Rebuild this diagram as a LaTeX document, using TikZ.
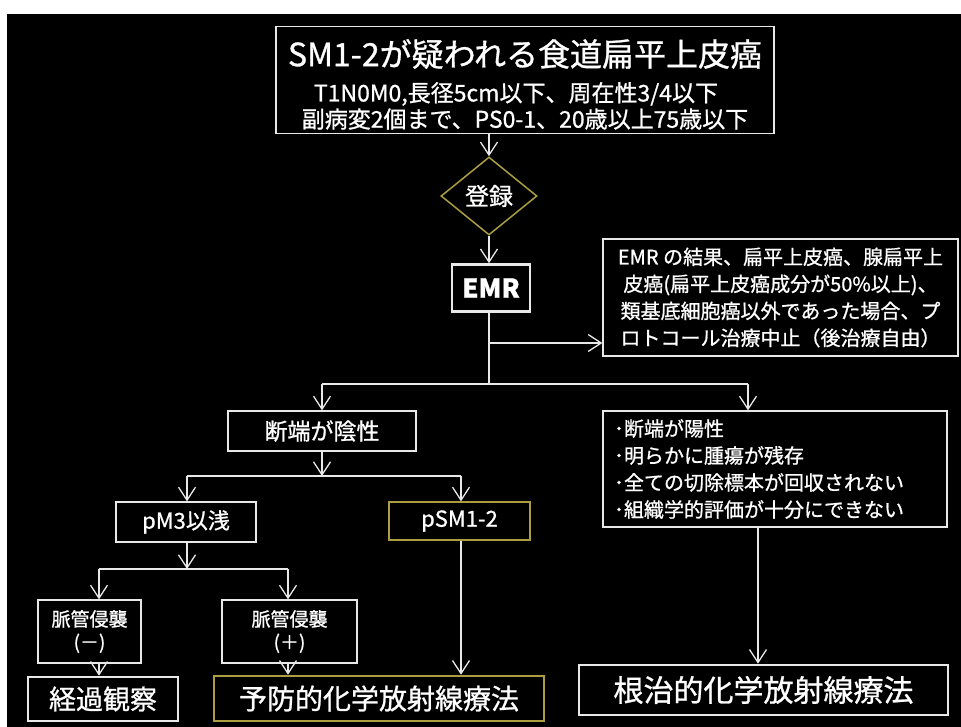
\documentclass[tikz,border=0pt]{standalone}
\usepackage{fontspec}
\setmainfont{Noto Sans CJK JP}[FakeBold=0.9]
\usetikzlibrary{arrows.meta,shapes.geometric}
\definecolor{gold}{RGB}{172,156,66}
\definecolor{lineW}{RGB}{232,232,232}
\begin{document}
\begin{tikzpicture}[x=1pt,y=-1pt,
  every node/.style={text=white},
  box/.style={draw=lineW, line width=1.3pt, inner sep=0pt, align=center},
  thickbox/.style={box, line width=2.6pt},
  goldbox/.style={box, draw=gold},
  conn/.style={draw=lineW, line width=1.3pt},
  arr/.style={conn, -{Straight Barb[length=13pt,width=17pt,line width=1.3pt]}},
  ftitle/.style={font=\fontsize{32}{36}\selectfont},
  fsub/.style={font=\fontsize{22}{26}\selectfont},
  fsubb/.style={font=\fontsize{23}{26}\selectfont},
  fnote/.style={font=\fontsize{20}{27}\selectfont},
]
\useasboundingbox (0,0) rectangle (961,727);
\fill[white] (0,0) rectangle (961,727);
\fill[black] (7,14) rectangle (961,727);

% top box
\node[box, minimum width=498pt, minimum height=107pt] (top) at (525,80) {};
\node[ftitle] (t1) at (525,54) {SM1-2が疑われる食道扁平上皮癌};
\node[fsubb] (t2) at (516,94) {T1N0M0,長径5cm以下、周在性3/4以下};
\node[fsubb] (t3) at (525,119) {副病変2個まで、PS0-1、20歳以上75歳以下};

% registration diamond
\node[diamond, draw=gold, line width=1.5pt, aspect=1.23, minimum width=96pt, minimum height=78pt, inner sep=0pt, font=\fontsize{24}{26}\selectfont] (reg) at (489,196) {登録};

% EMR
\node[thickbox, minimum width=78pt, minimum height=47pt, font=\fontsize{26}{30}\selectfont\bfseries] (emr) at (491,288) {EMR};

% right box 1
\node[box, minimum width=355pt, minimum height=117pt, fnote] (rb1) at (780.5,297.5)
  {EMR の結果、扁平上皮癌、腺扁平上\\皮癌(扁平上皮癌成分が50\%以上)、\\類基底細胞癌以外であった場合、プ\\ロトコール治療中止（後治療自由）};

% right box 2
\node[box, text width=322pt, inner xsep=11pt, minimum height=116pt, align=left, fnote] (rb2) at (775,469)
  {･断端が陽性\\･明らかに腫瘍が残存\\･全ての切除標本が回収されない\\･組織学的評価が十分にできない};

% margin negative
\node[box, minimum width=188pt, minimum height=40pt, font=\fontsize{23}{27}\selectfont] (neg) at (322,431) {断端が陰性};

\node[box, minimum width=140pt, minimum height=40pt, fsub] (pm3) at (186,522) {pM3以浅};
\node[goldbox, minimum width=141pt, minimum height=38pt, fsub] (psm) at (459.5,521) {pSM1-2};

\node[box, minimum width=103pt, minimum height=63pt, font=\fontsize{19}{23}\selectfont] (v1) at (89.5,631.5) {脈管侵襲\\(－)};
\node[box, minimum width=135pt, minimum height=63pt, font=\fontsize{19}{23}\selectfont] (v2) at (289.5,631.5) {脈管侵襲\\(＋)};

\node[thickbox, minimum width=150pt, minimum height=44pt, font=\fontsize{27}{30}\selectfont] (obs) at (103,699) {経過観察};
\node[goldbox, line width=2.6pt, minimum width=330pt, minimum height=45pt, font=\fontsize{28}{32}\selectfont] (prev) at (379,698.5) {予防的化学放射線療法};
\node[thickbox, minimum width=369pt, minimum height=50pt, font=\fontsize{30}{34}\selectfont] (cure) at (763.5,690) {根治的化学放射線療法};

% connectors
\draw[arr] (top.south -| reg.north) -- (reg.north);
\draw[arr] (reg.south) -- (reg.south |- emr.north);

\coordinate (j1) at (489,343);
\coordinate (j2) at (489,384);
\coordinate (k2) at (748,384);
\draw[conn] (j1 |- emr.south) -- (j2);
\draw[arr] (j1) -- (j1 -| rb1.west);
\draw[conn] (neg.north |- j2) -- (k2);
\draw[arr] (neg.north |- j2) -- (neg.north);
\draw[arr] (k2) -- (k2 |- rb2.north);

\coordinate (j3) at (322,476);
\draw[arr] (neg.south) -- (j3);
\coordinate (b1) at (187,476);
\coordinate (b2) at (461,476);
\draw[conn] (b1) -- (b2);
\draw[arr] (b1) -- (b1 |- pm3.north);
\draw[arr] (b2) -- (b2 |- psm.north);

\coordinate (j4) at (187,569);
\draw[arr] (j4 |- pm3.south) -- (j4);
\coordinate (a1) at (99,569);
\coordinate (a2) at (288,569);
\draw[conn] (a1) -- (a2);
\draw[arr] (a1) -- (a1 |- v1.north);
\draw[arr] (a2) -- (a2 |- v2.north);
\draw[arr] (a1 |- v1.south) -- (a1 |- obs.north);
\draw[arr] (a2 |- v2.south) -- (a2 |- prev.north);
\draw[arr] (b2 |- psm.south) -- (b2 |- prev.north);

\coordinate (c1) at (758,527);
\draw[arr] (c1 |- rb2.south) -- (c1 |- cure.north);
\end{tikzpicture}
\end{document}
